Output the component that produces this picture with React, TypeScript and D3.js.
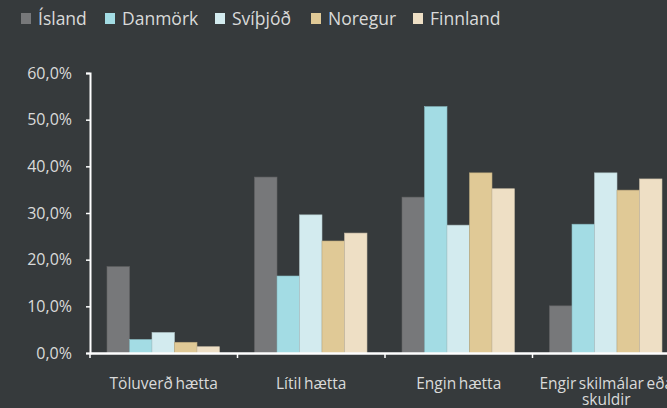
import React, { useEffect, useRef } from "react";
import * as d3 from "d3";

const categories = [
  "Töluverð hætta",
  "Lítil hætta",
  "Engin hætta",
  "Engir skilmálar eða skuldir",
];
const countries = ["Ísland", "Danmörk", "Svíþjóð", "Noregur", "Finnland"];
const colors = ["#77787a", "#a3dce4", "#d3ebef", "#e0c996", "#eedfc5"];

// one array per country, values in %
const island = [18.5, 37.7, 33.4, 10.1];
const danmork = [2.9, 16.5, 52.8, 27.6];
const svithjod = [4.4, 29.6, 27.4, 38.6];
const noregur = [2.3, 24.0, 38.6, 34.9];
const finnland = [1.35, 25.7, 35.2, 37.3];

const yTicks = [0, 10, 20, 30, 40, 50, 60];

const App: React.FC = () => {
  const svgRef = useRef<SVGSVGElement>(null);

  useEffect(() => {
    if (!svgRef.current) return;
    const width = 667;
    const height = 408;
    const margin = { top: 73, right: 0, bottom: 55, left: 90 };
    const series = [island, danmork, svithjod, noregur, finnland];

    const svg = d3.select(svgRef.current);
    svg.selectAll("*").remove();
    svg.attr("width", width).attr("height", height);

    svg
      .append("rect")
      .attr("width", width)
      .attr("height", height)
      .attr("fill", "#363a3c");

    const font = "'Open Sans', 'Noto Sans', sans-serif";
    const textColor = "#dadada";

    const x0 = d3
      .scaleBand()
      .domain(categories)
      .range([margin.left, margin.left + 147.5 * 4])
      .paddingInner(0)
      .paddingOuter(0);

    const x1 = d3
      .scaleBand()
      .domain(countries)
      .range([17, x0.bandwidth() - 18])
      .padding(0);

    const y = d3
      .scaleLinear()
      .domain([0, 60])
      .range([height - margin.bottom, margin.top]);

    // bars
    categories.forEach((cat, ci) => {
      const g = svg.append("g").attr("transform", `translate(${x0(cat)},0)`);
      g.selectAll("rect")
        .data(countries.map((c, si) => ({ c, v: series[si][ci], si })))
        .enter()
        .append("rect")
        .attr("x", (d) => x1(d.c)!)
        .attr("y", (d) => y(d.v))
        .attr("width", x1.bandwidth())
        .attr("height", (d) => y(0) - y(d.v))
        .attr("fill", (d) => colors[d.si])
        .attr("stroke", (d) => d3.color(colors[d.si])!.darker(0.5).formatHex())
        .attr("stroke-width", 0.6);
    });

    // y axis
    const yAxis = svg
      .append("g")
      .attr("transform", `translate(${margin.left},0)`)
      .call(
        d3
          .axisLeft(y)
          .tickValues(yTicks)
          .tickSize(4)
          .tickPadding(14)
          .tickFormat((d) => `${(d as number).toFixed(1).replace(".", ",")}%`),
      );
    yAxis.select(".domain").attr("stroke", "#ffffff").attr("stroke-width", 2);
    yAxis.selectAll(".tick line").attr("stroke", "#ffffff").attr("stroke-width", 1.5);
    yAxis
      .selectAll(".tick text")
      .attr("fill", textColor)
      .style("font-family", font)
      .style("font-size", "16px");

    // x axis
    const xAxis = svg
      .append("g")
      .attr("transform", `translate(0,${y(0)})`)
      .call(
        d3
          .axisBottom(x0)
          .tickSize(0)
          .tickFormat(() => ""),
      );
    xAxis.select(".domain").attr("stroke", "#ffffff").attr("stroke-width", 2.5);

    svg
      .append("g")
      .selectAll("line")
      .data(categories)
      .enter()
      .append("line")
      .attr("x1", (d) => x0(d)!)
      .attr("x2", (d) => x0(d)!)
      .attr("y1", y(0))
      .attr("y2", y(0) + 5)
      .attr("stroke", "#ffffff")
      .attr("stroke-width", 1.5);

    // category labels
    const labelLines: Record<string, string[]> = {
      "Engir skilmálar eða skuldir": ["Engir skilmálar eða", "skuldir"],
    };
    categories.forEach((cat) => {
      const lines = labelLines[cat] ?? [cat];
      const t = svg
        .append("text")
        .attr("text-anchor", "middle")
        .attr("fill", textColor)
        .style("font-family", font)
        .style("font-size", "15.5px")
        .style("word-spacing", "-1.5px");
      lines.forEach((l, i) => {
        t.append("tspan")
          .attr("x", x0(cat)! + x0.bandwidth() / 2)
          .attr("y", y(0) + 36 + i * 16)
          .text(l);
      });
    });

    // legend
    const legendTextX = [38, 122, 232, 328, 430];
    const legend = svg.append("g");
    countries.forEach((c, i) => {
      legend
        .append("rect")
        .attr("x", legendTextX[i] - 17)
        .attr("y", 13)
        .attr("width", 10)
        .attr("height", 11)
        .attr("fill", colors[i]);
      legend
        .append("text")
        .attr("x", legendTextX[i])
        .attr("y", 25)
        .attr("fill", textColor)
        .style("font-family", font)
        .style("font-size", "17.5px")
        .text(c);
    });
  }, []);

  return (
    <div style={{ position: "fixed", left: 0, top: 0, width: 667, height: 408 }}>
      <svg ref={svgRef} style={{ display: "block" }}></svg>
    </div>
  );
};

export default App;
